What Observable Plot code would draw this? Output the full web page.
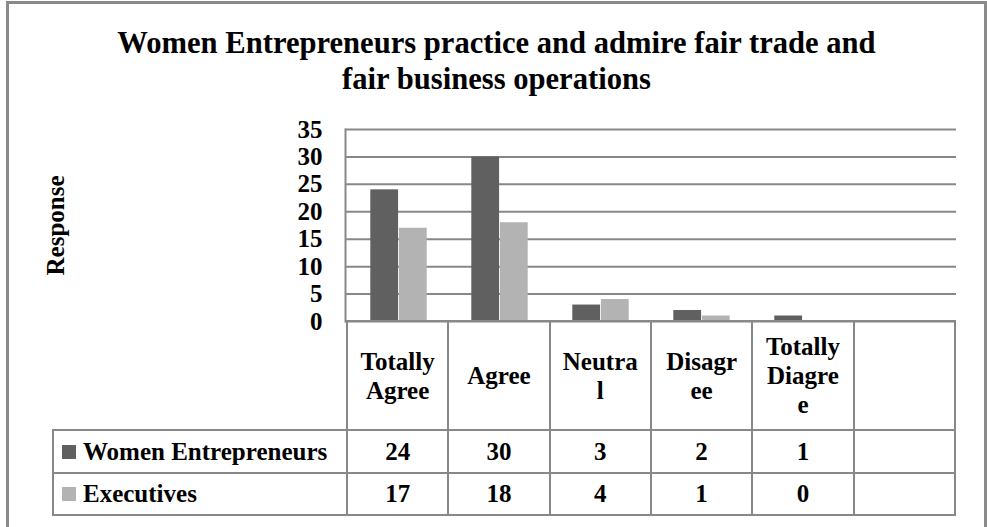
<!DOCTYPE html>
<html>
<head>
<meta charset="utf-8">
<script src="https://cdn.jsdelivr.net/npm/d3@7"></script>
<script src="https://cdn.jsdelivr.net/npm/@observablehq/plot@0.6"></script>
<style>
  html, body { margin: 0; padding: 0; background: #fff; }
  #wrap { position: relative; width: 987px; height: 527px; overflow: hidden; font-family: "Liberation Serif", "Times New Roman", serif; font-weight: bold; color: #000; }
  #box { position: absolute; left: 6px; top: 1px; width: 981px; height: 600px; border: 3px solid #8a8a8a; box-sizing: border-box; }
  #title { position: absolute; left: 6px; width: 981px; top: 25px; text-align: center; font-size: 30.6px; line-height: 36px; }
  #chart { position: absolute; left: 0; top: 0; }
  #tbl { position: absolute; left: 52px; top: 320px; border-collapse: collapse; table-layout: fixed; font-size: 25px; }
  #tbl td { border: 2px solid #888; padding: 0; text-align: center; vertical-align: middle; }
  #tbl td.blank { border-top: none; border-left: none; }
  #tbl td.name { text-align: left; white-space: nowrap; }
  .sw { display: inline-block; width: 14px; height: 14px; margin-left: 8px; margin-right: 7px; vertical-align: 1px; }
</style>
</head>
<body>
<div id="wrap">
  <div id="box"></div>
  <div id="title">Women Entrepreneurs practice and admire fair trade and<br>fair business operations</div>
  <div id="chart"></div>
</div>
<script>
// ---- data ----
const categories = ["Totally Agree", "Agree", "Neutral", "Disagree", "Totally Diagree", " "];
const headerLabels = [["Totally", "Agree"], ["Agree"], ["Neutra", "l"], ["Disagr", "ee"], ["Totally", "Diagre", "e"], []];
const seriesNames = ["Women Entrepreneurs", "Executives"];
const womenEntrepreneurs = [24, 30, 3, 2, 1];
const executives = [17, 18, 4, 1, 0];
const yTicks = [0, 5, 10, 15, 20, 25, 30, 35];
const seriesColors = ["#606060", "#b3b3b3"];

// ---- layout ----
const W = 987, H = 527;
const plotLeft = 345, plotRight = 956, plotTop = 129, plotBottom = 321;
const step = (plotRight - plotLeft) / categories.length;

const rows = [];
categories.slice(0, womenEntrepreneurs.length).forEach((c, i) => {
  rows.push({cat: c, series: seriesNames[0], value: womenEntrepreneurs[i]});
  rows.push({cat: c, series: seriesNames[1], value: executives[i]});
});

const font = '"Liberation Serif", "Times New Roman", serif';
const chart = Plot.plot({
  width: W,
  height: H,
  marginLeft: plotLeft,
  marginRight: W - plotRight,
  marginTop: plotTop,
  marginBottom: H - plotBottom,
  style: {fontFamily: font, fontWeight: "bold", fontSize: "25px", color: "#000", background: "transparent", overflow: "visible"},
  x: {domain: categories, padding: 0, axis: null},
  y: {domain: [0, 35]},
  marks: [
    Plot.gridY(yTicks, {stroke: "#888", strokeOpacity: 1, strokeWidth: 2}),
    Plot.barY(rows.filter(d => d.series === seriesNames[0]), {x: "cat", y: "value", fill: seriesColors[0], insetLeft: step * 0.219, insetRight: step * 0.5}),
    Plot.barY(rows.filter(d => d.series === seriesNames[1]), {x: "cat", y: "value", fill: seriesColors[1], insetLeft: step * 0.5, insetRight: step * 0.219}),
    Plot.frame({anchor: "left", stroke: "#888", strokeWidth: 2}),
    Plot.axisY(yTicks, {tickSize: 0, tickPadding: 23, label: "Response", labelAnchor: "center", labelArrow: false, labelOffset: 299, fill: "#000"})
  ]
});
chart.id = "chartsvg";
document.getElementById("chart").appendChild(chart);

// ---- data table below the axis ----
const xs = chart.scale("x");
const colW = xs.step || step;
const tbl = document.createElement("table");
tbl.id = "tbl";
tbl.style.width = (plotRight - 52) + "px";
const cg = document.createElement("colgroup");
const c0 = document.createElement("col"); c0.style.width = (plotLeft - 52) + "px"; cg.appendChild(c0);
categories.forEach(() => { const c = document.createElement("col"); c.style.width = colW + "px"; cg.appendChild(c); });
tbl.appendChild(cg);

const hr = document.createElement("tr");
hr.style.height = "109px";
const hb = document.createElement("td"); hb.className = "blank"; hr.appendChild(hb);
headerLabels.forEach(lines => {
  const td = document.createElement("td");
  td.style.lineHeight = "29px";
  td.innerHTML = lines.join("<br>");
  hr.appendChild(td);
});
tbl.appendChild(hr);

[womenEntrepreneurs, executives].forEach((vals, si) => {
  const tr = document.createElement("tr");
  tr.style.height = si === 0 ? "43px" : "42px";
  const nm = document.createElement("td");
  nm.className = "name";
  nm.innerHTML = `<span class="sw" style="background:${seriesColors[si]}"></span>${seriesNames[si]}`;
  tr.appendChild(nm);
  categories.forEach((c, i) => {
    const td = document.createElement("td");
    td.textContent = i < vals.length ? String(vals[i]) : "";
    tr.appendChild(td);
  });
  tbl.appendChild(tr);
});
document.getElementById("wrap").appendChild(tbl);
</script>
</body>
</html>
